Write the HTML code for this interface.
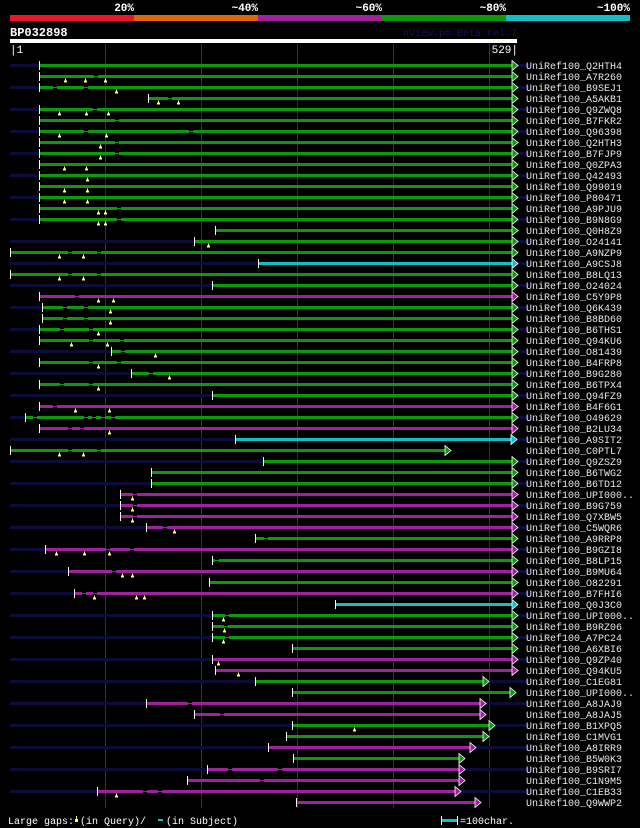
<!DOCTYPE html>
<html><head><meta charset="utf-8">
<style>
html,body{margin:0;padding:0;background:#000;}
svg{display:block;}
text{font-family:"Liberation Mono","DejaVu Sans Mono",monospace;}
</style></head>
<body>
<svg id="chart" width="640" height="828" viewBox="0 0 640 828" xmlns="http://www.w3.org/2000/svg">
<rect x="0" y="0" width="640" height="828" fill="#000"/>
<g>
<rect x="10" y="15" width="124" height="6" fill="#f01428"/>
<rect x="134" y="15" width="124" height="6" fill="#e0640a"/>
<rect x="258" y="15" width="124" height="6" fill="#a020a0"/>
<rect x="382" y="15" width="124" height="6" fill="#0a9a0a"/>
<rect x="506" y="15" width="124" height="6" fill="#10c0c8"/>
<text x="134" y="11" fill="#fff" font-size="11" font-weight="bold" text-anchor="end">20%</text>
<text x="258" y="11" fill="#fff" font-size="11" font-weight="bold" text-anchor="end">~40%</text>
<text x="382" y="11" fill="#fff" font-size="11" font-weight="bold" text-anchor="end">~60%</text>
<text x="506" y="11" fill="#fff" font-size="11" font-weight="bold" text-anchor="end">~80%</text>
<text x="630" y="11" fill="#fff" font-size="11" font-weight="bold" text-anchor="end">~100%</text>
</g>
<text x="10" y="36" fill="#fff" font-size="12" font-weight="bold">BP032898</text>
<text x="517" y="36" fill="#14145a" font-size="10" text-anchor="end">nView.pm Beta rel.7</text>
<rect x="10" y="39" width="507" height="4" fill="#fff"/>
<text x="10" y="53" fill="#fff" font-size="11">|1</text>
<text x="518" y="53" fill="#fff" font-size="11" text-anchor="end">529|</text>
<g id="grid"></g>
<g id="rows"></g>
<g>
<text x="8" y="824" fill="#fff" font-size="10">Large gaps:</text>
<rect x="76" y="816" width="1" height="3" fill="#ffff80"/>
<rect x="75" y="819" width="3" height="3" fill="#ffff80"/>
<text x="80" y="824" fill="#fff" font-size="10">(in Query)/</text>
<rect x="158" y="819" width="5" height="2" fill="#10c0c8"/>
<text x="166" y="824" fill="#fff" font-size="10">(in Subject)</text>
<rect x="441" y="816" width="1" height="9" fill="#fff"/>
<rect x="442" y="819" width="15" height="3" fill="#10c0c8"/>
<rect x="457" y="816" width="1" height="9" fill="#fff"/>
<text x="460" y="824" fill="#fff" font-size="10">=100char.</text>
</g>
</svg>
<script>
const names = ["Q2HTH4","A7R260","B9SEJ1","A5AKB1","Q9ZWQ8","B7FKR2","Q96398","Q2HTH3","B7FJP9","Q0ZPA3","Q42493","Q99019","P80471","A9PJU9","B9N8G9","Q0H8Z9","O24141","A9NZP9","A9CSJ8","B8LQ13","O24024","C5Y9P8","Q6K439","B8BD60","B6THS1","Q94KU6","O81439","B4FRP8","B9G280","B6TPX4","Q94FZ9","B4F6G1","O49629","B2LU34","A9SIT2","C0PTL7","Q9ZSZ9","B6TWG2","B6TD12","UPI000..","B9G759","Q7XBW5","C5WQR6","A9RRP8","B9GZI8","B8LP15","B9MU64","O82291","B7FHI6","Q0J3C0","UPI000..","B9RZ06","A7PC24","A6XBI6","Q9ZP40","Q94KU5","C1EG81","UPI000..","A8JAJ9","A8JAJ5","B1XPQ5","C1MVG1","A8IRR9","B5W0K3","B9SRI7","C1N9M5","C1EB33","Q9WWP2"];
const starts = [31,31,31,145,31,31,31,31,31,31,31,31,31,31,31,214,193,1,259,1,211,31,34,34,31,31,106,31,127,31,211,31,17,31,235,1,264,148,148,116,116,116,143,256,37,211,61,208,68,339,211,211,211,295,211,214,256,295,143,193,295,288,270,296,206,185,92,299];
const ends = [524,524,524,524,524,524,524,524,524,524,524,524,524,524,524,524,524,524,524,524,524,524,524,524,524,524,524,524,524,524,524,524,524,524,523,454,524,524,524,524,524,524,524,524,524,524,524,524,524,524,524,524,524,524,524,524,494,522,490,490,500,494,480,469,469,469,464,485];
const identity = ["G","G","G","G","G","G","G","G","G","G","G","G","G","G","G","G","G","G","C","G","G","P","G","G","G","G","G","G","G","G","G","P","G","P","C","G","G","G","G","P","P","P","P","G","P","G","P","G","P","C","G","G","G","G","P","P","G","G","P","P","G","G","P","G","P","P","P","P"];
const queryGaps = [[],[58,79,100],[111],[155,176],[52,80,103],[],[52,101],[95],[95],[57,80],[81],[57,81],[57,81],[93,100],[93,100],[],[207],[52,77],[],[52,77],[],[93,108],[105],[105],[93],[65,102],[152],[93],[167],[93],[],[69,104],[],[104],[],[52,77],[],[],[],[128],[128],[128],[172],[],[49,78,104],[],[118,128],[],[88,132,141],[],[223],[224],[223],[],[218],[238],[],[],[],[],[359],[],[],[],[],[],[111],[]];
const subjectGaps = [[],[91],[48,80],[168],[90],[112],[80,189],[112],[112],[],[],[],[],[115],[115],[],[],[63,94],[],[63,94],[],[71],[58,80],[58,80],[55,85],[85,118],[119],[85,115],[148],[55,85],[],[48],[27,80,88,98,108],[64,76],[],[63,94],[],[],[],[131],[131],[131],[162],[268],[103,128],[217],[109],[],[78,90],[],[227],[226],[227],[],[],[],[],[],[188],[222],[],[],[],[],[230,282],[263],[142,157],[]];

const colorMap = {G:"#0a9a0a",P:"#a020a0",C:"#10c0c8"};
const gridResidues = [100,200,300,400,500];
const NS = "http://www.w3.org/2000/svg";
function xScale(r){ return 10 + (r-1)*507/528; }
function yRow(i){ return 65.5 + i*11; }
function mk(tag, attrs, parent){
  const e = document.createElementNS(NS, tag);
  for (const k in attrs) e.setAttribute(k, attrs[k]);
  parent.appendChild(e);
  return e;
}
const grid = document.getElementById('grid');
gridResidues.forEach(r=>{
  const x = Math.round(xScale(r))+0.5;
  const l = mk('line',{x1:x,x2:x,y1:44,y2:808,stroke:'#38380f','stroke-width':1},grid);
  
  
});
const rows = document.getElementById('rows');
names.forEach((n,i)=>{
  const cy = yRow(i);
  const g = mk('g',{},rows);
  
  
  if (i%2===0){
    const bg = mk('rect',{x:10,y:cy-1.5,width:519,height:3,fill:'#0c0c3c'},g);
    
    
  }
  const x0 = Math.round(xScale(starts[i])), x1 = Math.round(xScale(ends[i]));
  const col = colorMap[identity[i]];
  const seg = mk('rect',{x:x0,y:cy-1.5,width:x1-x0,height:3,fill:col},g);
  
  
  subjectGaps[i].forEach(r=>{
    const gx = Math.round(xScale(r));
    const gb = mk('rect',{x:gx-2,y:cy-1.5,width:4,height:3,fill:'#000'},g);
    
    
    const gl = mk('rect',{x:gx-2,y:cy-0.5,width:4,height:1,fill:col},g);
    
    
  });
  const tk = mk('rect',{x:x0,y:cy-4.5,width:1,height:9,fill:'#fff'},g);
  
  
  const ar = mk('polygon',{points:`${x1},${cy-5} ${x1+6},${cy} ${x1},${cy+5}`,fill:col,stroke:'#fff','stroke-width':0.8},g);
  
  
  queryGaps[i].forEach(r=>{
    const tx = Math.round(xScale(r));
    const s = mk('rect',{x:tx,y:cy+2,width:1,height:2,fill:'#ffff80'},g);
    
    
    const b = mk('rect',{x:tx-1,y:cy+4,width:3,height:2,fill:'#ffff80'},g);
    
    
  });
  const t = mk('text',{x:526,y:cy+3.5,fill:'#e8e8e8','font-size':10},g);
  t.textContent = 'UniRef100_'+n;
  
  
});
</script>
</body></html>
